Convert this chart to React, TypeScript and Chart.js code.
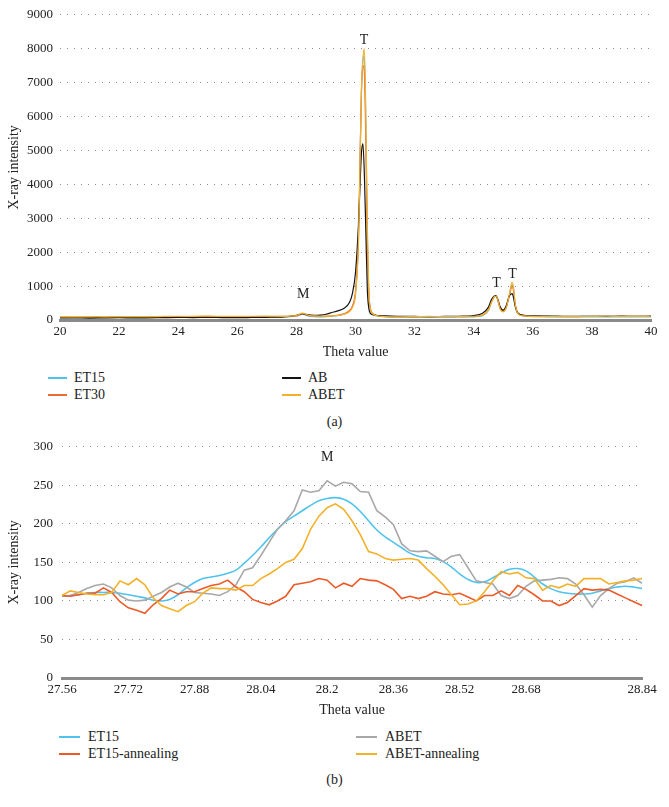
import React, { useEffect, useRef } from "react";
import { Chart, registerables } from "chart.js";
Chart.register(...registerables);

const FONT = "'Liberation Serif', 'DejaVu Serif', serif";
const TEXT = "#222222";

// ---------- Chart (a) ----------
const thetaA = [
  20, 20.5, 21, 21.5, 22, 22.5, 23, 23.5, 24, 24.5, 25, 25.5, 26, 26.5, 27, 27.5,
  28.0, 28.2, 28.4, 28.6, 28.8, 29.0, 29.2, 29.4, 29.6, 29.8, 29.9, 30.0, 30.1, 30.15,
  30.2, 30.25, 30.3, 30.35, 30.4, 30.45, 30.5, 30.6, 30.8, 31.0,
  31.5, 32.0, 32.5, 33.0, 33.5, 34.0, 34.3, 34.5, 34.6, 34.7, 34.75, 34.8, 34.9, 35.0,
  35.1, 35.2, 35.3, 35.35, 35.4, 35.5, 35.7, 36.0,
  36.5, 37.0, 37.5, 38.0, 38.5, 39.0, 39.5, 40.0,
];
const et15A = [
  70, 75, 68, 72, 78, 70, 75, 80, 82, 85, 88, 80, 78, 82, 85, 88,
  110, 170, 120, 100, 95, 100, 110, 130, 170, 260, 400, 780, 2300, 4400,
  6700, 7600, 7800, 5800, 2600, 850, 330, 160, 110, 95,
  85, 80, 85, 82, 88, 95, 130, 280, 520, 680, 700, 620, 330, 260,
  360, 700, 1050, 900, 480, 180, 120, 100,
  95, 90, 92, 95, 90, 92, 95, 90,
];
const et30A = [
  85, 80, 90, 85, 88, 92, 86, 95, 98, 100, 105, 98, 95, 100, 102, 105,
  120, 180, 130, 110, 105, 110, 120, 140, 180, 280, 420, 850, 2400, 4600,
  6700, 7500, 7300, 5200, 2300, 800, 350, 180, 120, 105,
  100, 95, 100, 98, 100, 105, 140, 300, 540, 700, 710, 640, 340, 270,
  380, 700, 1000, 850, 500, 200, 130, 110,
  105, 100, 102, 108, 104, 106, 108, 105,
];
const abA = [
  60, 65, 58, 62, 66, 60, 64, 70, 75, 72, 78, 70, 68, 75, 80, 85,
  140, 185, 150, 140, 145, 170, 220, 270, 340, 520, 800, 1400, 2800, 3900,
  4900, 5200, 4300, 2600, 900, 350, 200, 150, 130, 120,
  110, 105, 100, 105, 110, 130, 200, 380, 600, 710, 720, 650, 380, 290,
  420, 700, 780, 650, 420, 200, 140, 120,
  115, 110, 105, 110, 108, 112, 110, 112,
];
const abetA = [
  95, 90, 100, 95, 98, 102, 97, 105, 110, 108, 115, 108, 104, 110, 112, 108,
  130, 200, 140, 120, 110, 115, 120, 135, 170, 250, 380, 750, 2300, 4400,
  6800, 7700, 8000, 6000, 2800, 900, 350, 170, 115, 100,
  95, 100, 105, 100, 105, 110, 150, 300, 520, 690, 700, 640, 320, 240,
  360, 720, 1120, 950, 500, 190, 120, 105,
  100, 108, 100, 105, 110, 105, 108, 110,
];
const peakLabelsA = [
  { text: "T", x: 30.29, y: 8240 },
  { text: "M", x: 28.23, y: 760 },
  { text: "T", x: 34.77, y: 1090 },
  { text: "T", x: 35.31, y: 1350 },
];

// ---------- Chart (b) ----------
const et15B = [
  106, 107, 108, 110, 111, 111, 111, 110, 108, 106,
  104, 101, 100, 102, 108, 117, 124, 129, 131, 133,
  136, 140, 149, 159, 170, 182, 193, 203, 210, 217,
  224, 230, 233, 234, 232, 226, 216, 204, 192, 183,
  176, 169, 162, 158, 156, 155, 151, 144, 135, 128,
  124, 125, 130, 136, 141, 142, 139, 131, 122, 116,
  112, 110, 109, 109, 110, 113, 116, 118, 119, 118, 116,
];
const et15AnnB = [
  107, 106, 108, 110, 110, 117, 111, 99, 91, 88,
  84, 95, 103, 114, 109, 112, 112, 116, 120, 122,
  127, 118, 112, 102, 98, 95, 100, 106, 121, 123,
  125, 129, 127, 117, 123, 119, 129, 127, 126, 121,
  115, 103, 106, 103, 106, 112, 109, 108, 110, 105,
  100, 107, 107, 113, 107, 120, 115, 108, 100, 100,
  94, 98, 107, 116, 114, 115, 114, 109, 104, 99, 94,
];
const abetB = [
  106, 107, 111, 116, 120, 122, 117, 107, 101, 100,
  101, 106, 111, 118, 123, 118, 111, 110, 109, 107,
  112, 121, 140, 143, 159, 176, 193, 204, 217, 244,
  241, 243, 256, 249, 254, 252, 242, 241, 217, 209,
  199, 174, 165, 164, 165, 158, 151, 158, 160, 143,
  126, 124, 122, 107, 103, 107, 119, 126, 127, 128,
  130, 129, 122, 108, 92, 107, 116, 123, 125, 130, 123,
];
const abetAnnB = [
  107, 113, 111, 109, 108, 108, 111, 126, 121, 129,
  121, 104, 94, 90, 86, 94, 99, 110, 117, 116,
  116, 114, 120, 120, 129, 135, 142, 150, 154, 168,
  193, 210, 221, 226, 219, 204, 186, 164, 161, 155,
  153, 154, 155, 153, 142, 132, 121, 108, 95, 96,
  100, 112, 126, 138, 135, 137, 130, 129, 114, 120,
  117, 122, 119, 129, 129, 129, 122, 124, 126, 127, 129,
];
const tickIndexB = [0, 8, 16, 24, 32, 40, 48, 56, 70];
const tickLabelsB = ["27.56", "27.72", "27.88", "28.04", "28.2", "28.36", "28.52", "28.68", "28.84"];
const peakLabelsB = [{ text: "M", x: 32, y: 286 }];

const COLORS = {
  blue: "#4fc3ec",
  red: "#ec5b27",
  orange: "#ee6a35",
  black: "#141414",
  gold: "#f3b12a",
  gray: "#a8a8a8",
};

const peakPlugin = {
  id: "peakLabels",
  afterDatasetsDraw(chart: any, _args: any, opts: any) {
    const { ctx, scales } = chart;
    ctx.save();
    ctx.font = `14px ${FONT}`;
    ctx.fillStyle = TEXT;
    ctx.textAlign = "center";
    ctx.textBaseline = "middle";
    for (const a of opts.items || []) {
      ctx.fillText(a.text, scales.x.getPixelForValue(a.x), scales.y.getPixelForValue(a.y));
    }
    ctx.restore();
  },
};

const tickFont = { family: FONT, size: 13 };
const titleFont = { family: FONT, size: 14 };

function makeA(canvas: HTMLCanvasElement) {
  const ds = (label: string, vals: number[], color: string, order: number) => ({
    label,
    data: thetaA.map((x, i) => ({ x, y: vals[i] })),
    borderColor: color,
    backgroundColor: color,
    borderWidth: 1.2,
    pointRadius: 0,
    fill: false,
    order,
    cubicInterpolationMode: "monotone" as const,
  });
  return new Chart(canvas, {
    type: "line",
    data: {
      datasets: [
        ds("ABET", abetA, COLORS.gold, 0),
        ds("AB", abA, COLORS.black, 1),
        ds("ET30", et30A, COLORS.orange, 2),
        ds("ET15", et15A, COLORS.blue, 3),
      ],
    },
    options: {
      responsive: false,
      animation: false,
      devicePixelRatio: 1,
      layout: { padding: { top: 13, right: 18, bottom: 0, left: 0 } },
      plugins: {
        legend: { display: false },
        tooltip: { enabled: false },
        peakLabels: { items: peakLabelsA },
      } as any,
      scales: {
        x: {
          type: "linear",
          min: 20,
          max: 40,
          ticks: { stepSize: 2, font: tickFont, color: TEXT, padding: 4, maxRotation: 0 },
          grid: { display: false, drawTicks: false },
          border: { display: true, color: "#8a8a8a", width: 3 },
          title: { display: true, text: "Theta value", font: titleFont, color: TEXT, padding: { top: 0, bottom: 1 } },
          afterFit(s: any) { s.height = 42; },
        },
        y: {
          min: 0,
          max: 9000,
          ticks: { stepSize: 1000, font: tickFont, color: TEXT, padding: 7, callback: (v: any) => String(v) },
          grid: { color: "#8c8c8c", drawTicks: false, lineWidth: 1 },
          border: { display: false, dash: [1, 6] },
          title: { display: true, text: "X-ray intensity", font: titleFont, color: TEXT, padding: { top: 6, bottom: 0 } },
          afterFit(s: any) { s.width = 60; },
        },
      },
    } as any,
    plugins: [peakPlugin],
  });
}

function makeB(canvas: HTMLCanvasElement) {
  const labels = et15B.map((_, i) => {
    const k = tickIndexB.indexOf(i);
    return k >= 0 ? tickLabelsB[k] : "";
  });
  const ds = (label: string, vals: number[], color: string, order: number, smooth: boolean) => ({
    label,
    data: vals,
    borderColor: color,
    backgroundColor: color,
    borderWidth: 1.6,
    pointRadius: 0,
    fill: false,
    order,
    tension: smooth ? 0.4 : 0,
  });
  return new Chart(canvas, {
    type: "line",
    data: {
      labels,
      datasets: [
        ds("ABET-annealing", abetAnnB, COLORS.gold, 0, false),
        ds("ET15-annealing", et15AnnB, COLORS.red, 1, false),
        ds("ABET", abetB, COLORS.gray, 2, false),
        ds("ET15", et15B, COLORS.blue, 3, true),
      ],
    },
    options: {
      responsive: false,
      animation: false,
      devicePixelRatio: 1,
      layout: { padding: { top: 13, right: 27, bottom: 0, left: 0 } },
      plugins: {
        legend: { display: false },
        tooltip: { enabled: false },
        peakLabels: { items: peakLabelsB },
      } as any,
      scales: {
        x: {
          type: "category",
          offset: false,
          ticks: {
            autoSkip: false,
            maxRotation: 0,
            font: tickFont,
            color: TEXT,
            padding: 4,
            callback: (_v: any, i: number) => (labels[i] ? labels[i] : null),
          },
          grid: { display: false, drawTicks: false },
          border: { display: true, color: "#8a8a8a", width: 3 },
          title: { display: true, text: "Theta value", font: titleFont, color: TEXT, padding: { top: 0, bottom: 1 } },
          afterFit(s: any) { s.height = 42; },
        },
        y: {
          min: 0,
          max: 300,
          ticks: { stepSize: 50, font: tickFont, color: TEXT, padding: 9, callback: (v: any) => String(v) },
          grid: { color: "#8c8c8c", drawTicks: false, lineWidth: 1 },
          border: { display: false, dash: [1, 6] },
          title: { display: true, text: "X-ray intensity", font: titleFont, color: TEXT, padding: { top: 6, bottom: 0 } },
          afterFit(s: any) { s.width = 62; },
        },
      },
    } as any,
    plugins: [peakPlugin],
  });
}

type LegendItem = { label: string; color: string; x: number; y: number };

const legendA: LegendItem[] = [
  { label: "ET15", color: COLORS.blue, x: 48, y: 378 },
  { label: "ET30", color: COLORS.orange, x: 48, y: 395 },
  { label: "AB", color: COLORS.black, x: 282, y: 378 },
  { label: "ABET", color: COLORS.gold, x: 282, y: 395 },
];
const legendB: LegendItem[] = [
  { label: "ET15", color: COLORS.blue, x: 59, y: 737 },
  { label: "ET15-annealing", color: COLORS.red, x: 59, y: 754 },
  { label: "ABET", color: COLORS.gray, x: 356, y: 737 },
  { label: "ABET-annealing", color: COLORS.gold, x: 356, y: 754 },
];

function Legend({ items, lineW, gap }: { items: LegendItem[]; lineW: number; gap: number }) {
  return (
    <>
      {items.map((it) => (
        <div key={it.label + it.y} style={{ position: "absolute", left: it.x, top: it.y - 9, height: 18, display: "flex", alignItems: "center" }}>
          <div style={{ width: lineW, height: 2, background: it.color }} />
          <span style={{ marginLeft: gap, fontFamily: FONT, fontSize: 14, color: TEXT, lineHeight: "18px", whiteSpace: "nowrap" }}>{it.label}</span>
        </div>
      ))}
    </>
  );
}

function Caption({ text, y }: { text: string; y: number }) {
  return (
    <div style={{ position: "absolute", left: 0, width: 669, top: y - 9, height: 18, textAlign: "center", fontFamily: FONT, fontSize: 14, color: TEXT, lineHeight: "18px" }}>
      {text}
    </div>
  );
}

export default function App() {
  const refA = useRef<HTMLCanvasElement>(null);
  const refB = useRef<HTMLCanvasElement>(null);
  useEffect(() => {
    const a = makeA(refA.current!);
    const b = makeB(refB.current!);
    return () => {
      a.destroy();
      b.destroy();
    };
  }, []);
  return (
    <div style={{ position: "absolute", left: 0, top: 0, width: 669, height: 807, background: "#ffffff", overflow: "hidden" }}>
      <canvas ref={refA} width={669} height={362} style={{ position: "absolute", left: 0, top: 0, width: 669, height: 362 }} />
      <Legend items={legendA} lineW={19} gap={7} />
      <Caption text="(a)" y={422} />
      <canvas ref={refB} width={669} height={290} style={{ position: "absolute", left: 0, top: 430, width: 669, height: 290 }} />
      <Legend items={legendB} lineW={21} gap={8} />
      <Caption text="(b)" y={780} />
    </div>
  );
}
